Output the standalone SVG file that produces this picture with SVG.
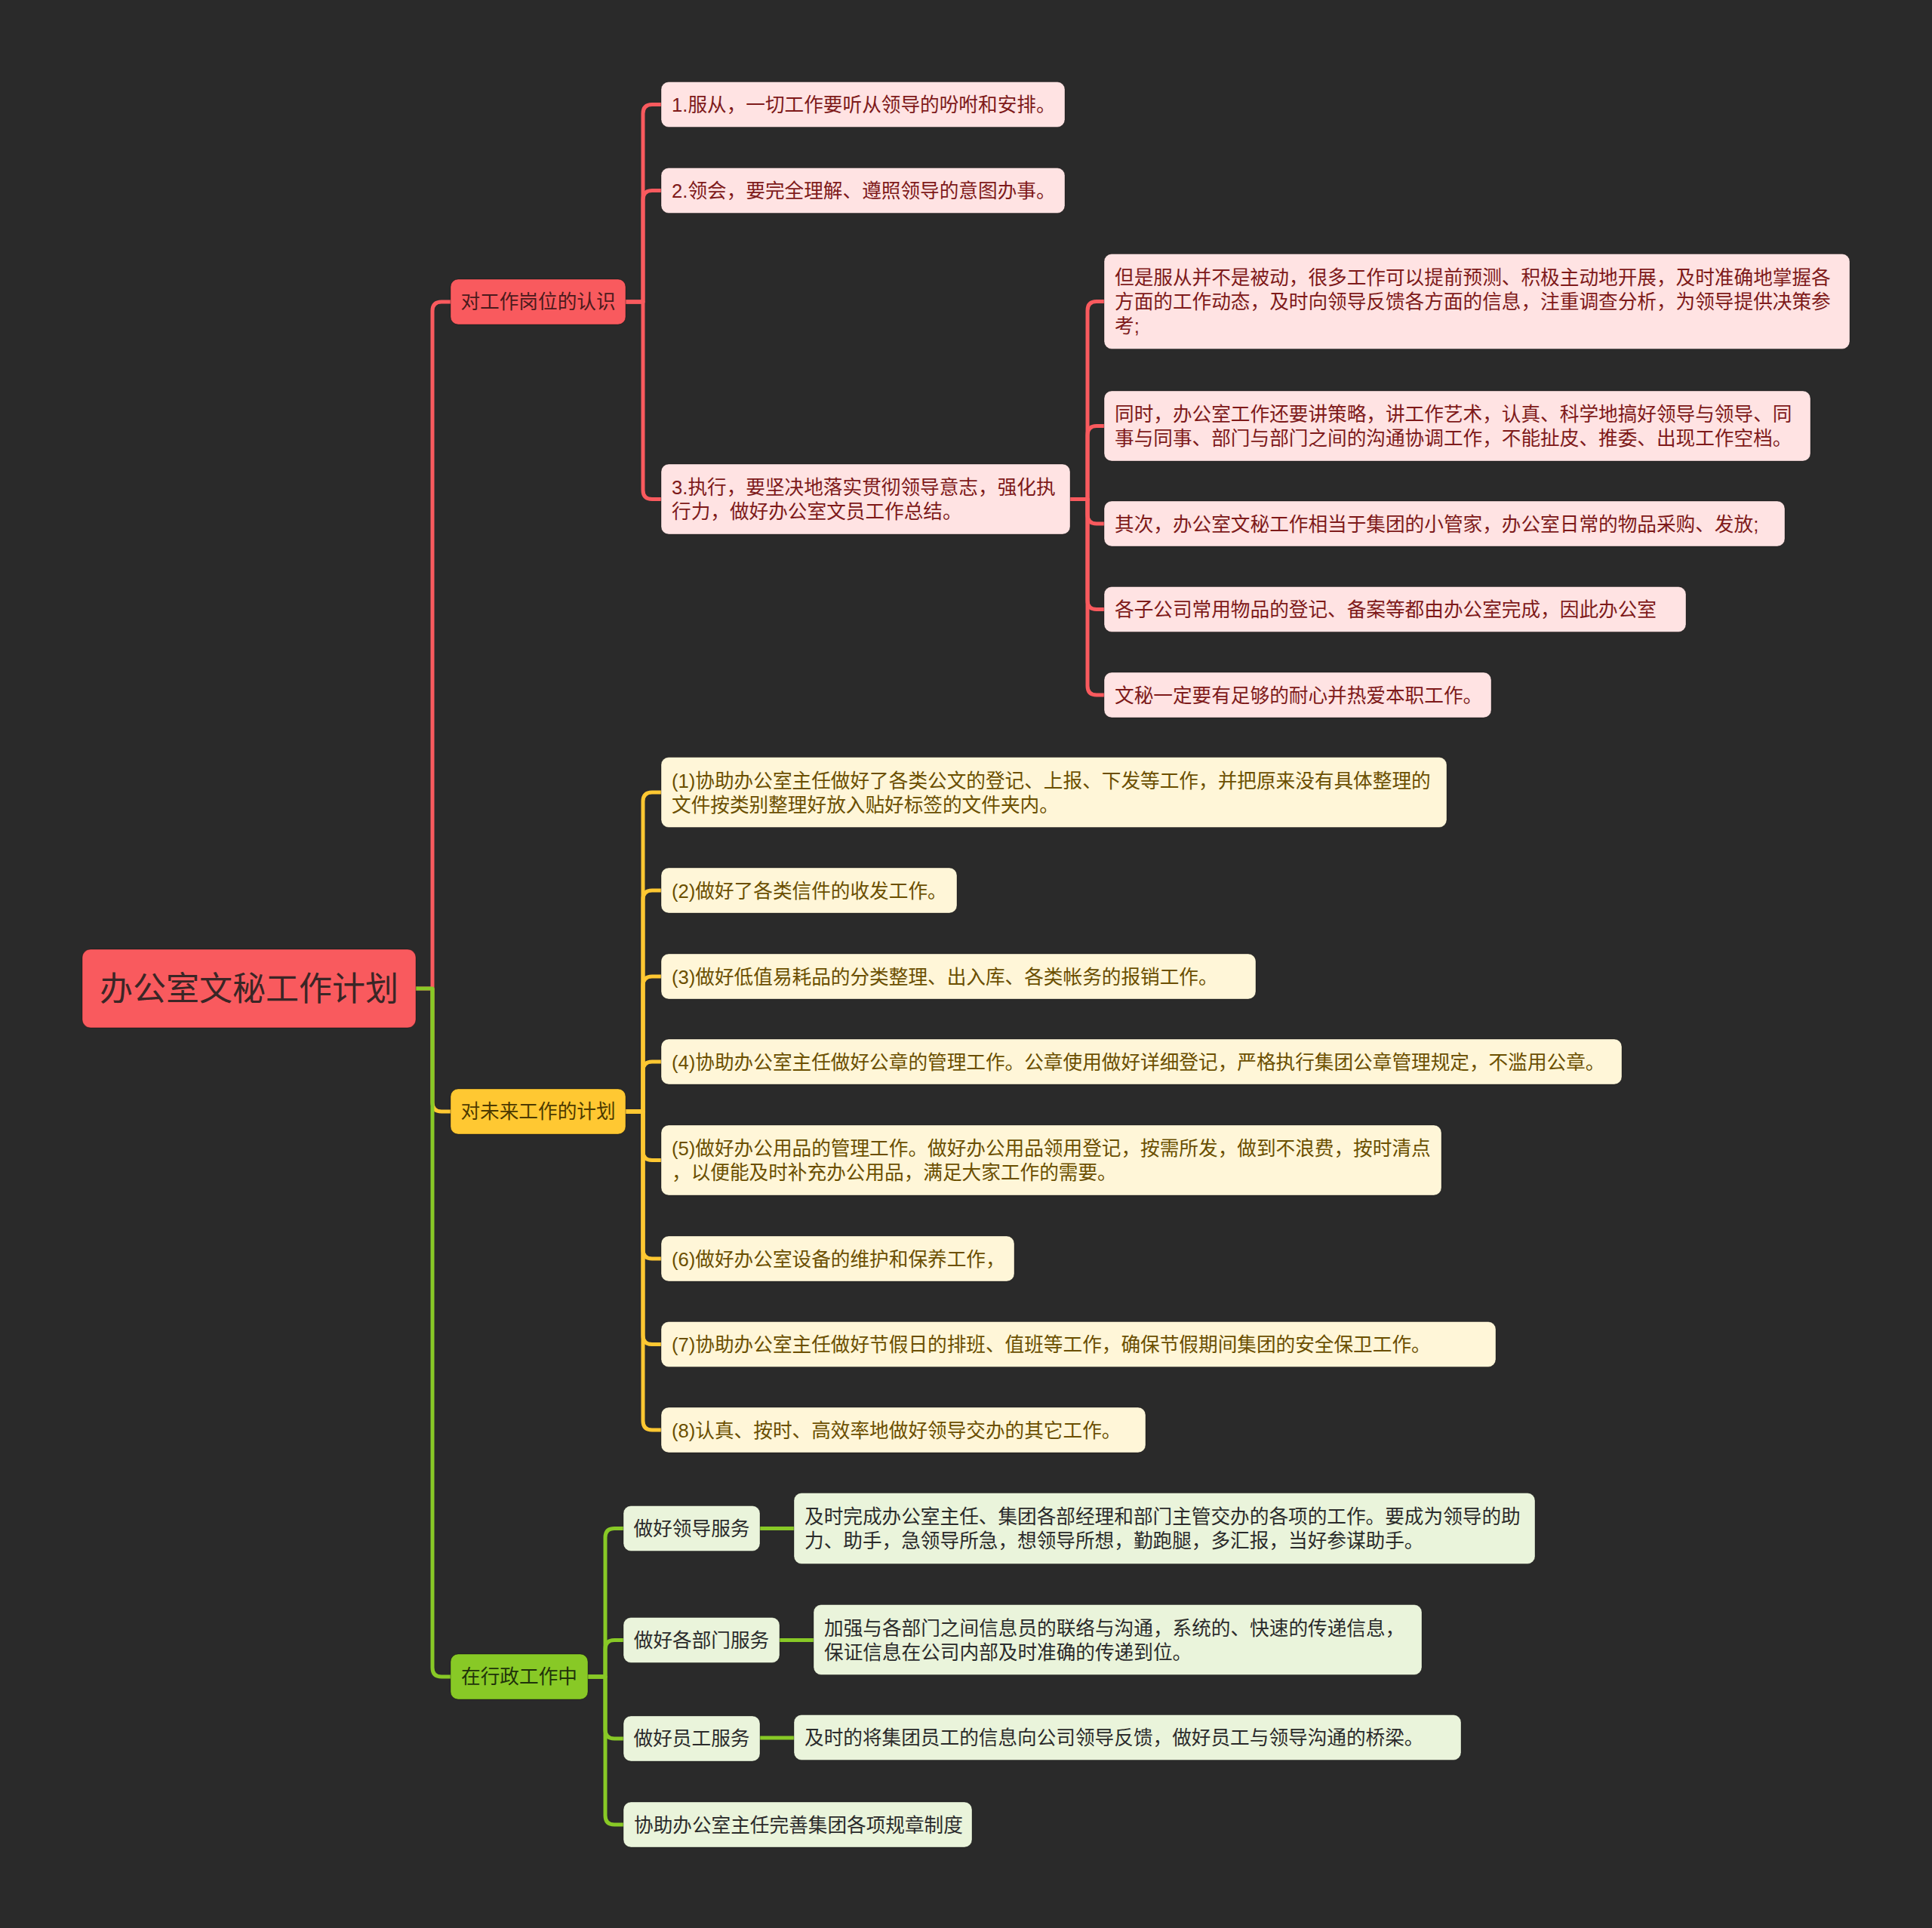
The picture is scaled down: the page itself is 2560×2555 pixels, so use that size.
<svg xmlns="http://www.w3.org/2000/svg" width="2560" height="2555" viewBox="0 0 2560 2555">
<style>
text{font-family:"Liberation Sans","Noto Sans CJK SC",sans-serif;font-size:25.65px;dominant-baseline:central}
.box{stroke:rgba(0,0,0,0.35);stroke-width:1}
.root rect{fill:#F95A5E}
.root text{font-size:44px;fill:#3a2626}
.r1 rect{fill:#F95A5E}
.r1 text{fill:#4a1a1c}
.r2 rect{fill:#FFE3E3}
.r2 text{fill:#7e1a1a}
.y1 rect{fill:#FFC832}
.y1 text{fill:#4d3a00}
.y2 rect{fill:#FFF6D8}
.y2 text{fill:#6b4f00}
.g1 rect{fill:#88C926}
.g1 text{fill:#1f330a}
.g2 rect{fill:#EAF4DB}
.g2 text{fill:#2b2b2b}
.c{fill:none;stroke-width:5;stroke-linejoin:round}
.cr{stroke:#F95A5E}
.cy{stroke:#FFC832}
.cg{stroke:#88C926}
</style>
<rect x="0" y="0" width="2560" height="2555" fill="#2a2a2a"/>

<g id="connectors">
  <path class="c cy" d="M573,1310 V1461 Q573,1473 585,1473 H597"/>
  <path class="c cr" d="M551,1310 H573 V412 Q573,400 585,400 H597"/>
  <path class="c cg" d="M551,1310 H573 V2210 Q573,2222 585,2222 H597"/>

  <path class="c cr" d="M829,400 H852 V150.5 Q852,138.5 864,138.5 H876"/>
  <path class="c cr" d="M829,400 H852 V264.5 Q852,252.5 864,252.5 H876"/>
  <path class="c cr" d="M829,400 H852 V649.5 Q852,661.5 864,661.5 H876"/>

  <path class="c cr" d="M1418,661.5 H1441 V411.5 Q1441,399.5 1453,399.5 H1463"/>
  <path class="c cr" d="M1418,661.5 H1441 V576.5 Q1441,564.5 1453,564.5 H1463"/>
  <path class="c cr" d="M1418,661.5 H1441 V682 Q1441,694 1453,694 H1463"/>
  <path class="c cr" d="M1418,661.5 H1441 V795.5 Q1441,807.5 1453,807.5 H1463"/>
  <path class="c cr" d="M1418,661.5 H1441 V909 Q1441,921 1453,921 H1463"/>

  <path class="c cy" d="M829,1473 H852 V1062 Q852,1050 864,1050 H876"/>
  <path class="c cy" d="M829,1473 H852 V1192 Q852,1180 864,1180 H876"/>
  <path class="c cy" d="M829,1473 H852 V1306 Q852,1294 864,1294 H876"/>
  <path class="c cy" d="M829,1473 H852 V1419 Q852,1407 864,1407 H876"/>
  <path class="c cy" d="M829,1473 H852 V1525.5 Q852,1537.5 864,1537.5 H876"/>
  <path class="c cy" d="M829,1473 H852 V1656 Q852,1668 864,1668 H876"/>
  <path class="c cy" d="M829,1473 H852 V1769.5 Q852,1781.5 864,1781.5 H876"/>
  <path class="c cy" d="M829,1473 H852 V1883 Q852,1895 864,1895 H876"/>

  <path class="c cg" d="M779,2222 H802 V2037.5 Q802,2025.5 814,2025.5 H826"/>
  <path class="c cg" d="M779,2222 H802 V2185.5 Q802,2173.5 814,2173.5 H826"/>
  <path class="c cg" d="M779,2222 H802 V2292 Q802,2304 814,2304 H826"/>
  <path class="c cg" d="M779,2222 H802 V2406 Q802,2418 814,2418 H826"/>

  <path class="c cg" d="M1007,2025.5 H1052"/>
  <path class="c cg" d="M1033,2173.5 H1078"/>
  <path class="c cg" d="M1007,2303 H1052"/>
</g>

<g id="root" class="root">
  <rect class="box" x="109" y="1258" width="442" height="104" rx="11"/>
  <text x="330" y="1310" text-anchor="middle">办公室文秘工作计划</text>
</g>

<g id="n-renshi" class="r1">
  <rect class="box" x="597" y="370" width="232" height="60" rx="10"/>
  <text x="713" y="400" text-anchor="middle">对工作岗位的认识</text>
</g>
<g id="n-fucong" class="r2">
  <rect class="box" x="876" y="108.5" width="535" height="60" rx="10"/>
  <text x="890" y="139">1.服从，一切工作要听从领导的吩咐和安排。</text>
</g>
<g id="n-linghui" class="r2">
  <rect class="box" x="876" y="222.5" width="535" height="60" rx="10"/>
  <text x="890" y="253">2.领会，要完全理解、遵照领导的意图办事。</text>
</g>
<g id="n-zhixing" class="r2">
  <rect class="box" x="876" y="615" width="542" height="93" rx="10"/>
  <text x="890" y="646">3.执行，要坚决地落实贯彻领导意志，强化执</text>
  <text x="890" y="678">行力，做好办公室文员工作总结。</text>
</g>
<g id="n-danshi" class="r2">
  <rect class="box" x="1463" y="336.5" width="988" height="126" rx="10"/>
  <text x="1477" y="368">但是服从并不是被动，很多工作可以提前预测、积极主动地开展，及时准确地掌握各</text>
  <text x="1477" y="400">方面的工作动态，及时向领导反馈各方面的信息，注重调查分析，为领导提供决策参</text>
  <text x="1477" y="432">考;</text>
</g>
<g id="n-tongshi" class="r2">
  <rect class="box" x="1463" y="518" width="936" height="93" rx="10"/>
  <text x="1477" y="549">同时，办公室工作还要讲策略，讲工作艺术，认真、科学地搞好领导与领导、同</text>
  <text x="1477" y="581">事与同事、部门与部门之间的沟通协调工作，不能扯皮、推委、出现工作空档。</text>
</g>
<g id="n-qici" class="r2">
  <rect class="box" x="1463" y="664" width="902" height="60" rx="10"/>
  <text x="1477" y="694.5">其次，办公室文秘工作相当于集团的小管家，办公室日常的物品采购、发放;</text>
</g>
<g id="n-gezi" class="r2">
  <rect class="box" x="1463" y="777.5" width="771" height="60" rx="10"/>
  <text x="1477" y="808">各子公司常用物品的登记、备案等都由办公室完成，因此办公室</text>
</g>
<g id="n-wenmi" class="r2">
  <rect class="box" x="1463" y="891" width="513" height="60" rx="10"/>
  <text x="1477" y="921.5">文秘一定要有足够的耐心并热爱本职工作。</text>
</g>

<g id="n-jihua" class="y1">
  <rect class="box" x="597" y="1443" width="232" height="60" rx="10"/>
  <text x="713" y="1473" text-anchor="middle">对未来工作的计划</text>
</g>
<g id="n-y1" class="y2">
  <rect class="box" x="876" y="1003.5" width="1041" height="93" rx="10"/>
  <text x="890" y="1034.5">(1)协助办公室主任做好了各类公文的登记、上报、下发等工作，并把原来没有具体整理的</text>
  <text x="890" y="1066.5">文件按类别整理好放入贴好标签的文件夹内。</text>
</g>
<g id="n-y2" class="y2">
  <rect class="box" x="876" y="1150" width="392" height="60" rx="10"/>
  <text x="890" y="1180.5">(2)做好了各类信件的收发工作。</text>
</g>
<g id="n-y3" class="y2">
  <rect class="box" x="876" y="1264" width="788" height="60" rx="10"/>
  <text x="890" y="1294.5">(3)做好低值易耗品的分类整理、出入库、各类帐务的报销工作。</text>
</g>
<g id="n-y4" class="y2">
  <rect class="box" x="876" y="1377" width="1273" height="60" rx="10"/>
  <text x="890" y="1407.5">(4)协助办公室主任做好公章的管理工作。公章使用做好详细登记，严格执行集团公章管理规定，不滥用公章。</text>
</g>
<g id="n-y5" class="y2">
  <rect class="box" x="876" y="1491" width="1034" height="93" rx="10"/>
  <text x="890" y="1522">(5)做好办公用品的管理工作。做好办公用品领用登记，按需所发，做到不浪费，按时清点</text>
  <text x="890" y="1554">，以便能及时补充办公用品，满足大家工作的需要。</text>
</g>
<g id="n-y6" class="y2">
  <rect class="box" x="876" y="1638" width="468" height="60" rx="10"/>
  <text x="890" y="1668.5">(6)做好办公室设备的维护和保养工作，</text>
</g>
<g id="n-y7" class="y2">
  <rect class="box" x="876" y="1751.5" width="1106" height="60" rx="10"/>
  <text x="890" y="1782">(7)协助办公室主任做好节假日的排班、值班等工作，确保节假期间集团的安全保卫工作。</text>
</g>
<g id="n-y8" class="y2">
  <rect class="box" x="876" y="1865" width="642" height="60" rx="10"/>
  <text x="890" y="1895.5">(8)认真、按时、高效率地做好领导交办的其它工作。</text>
</g>

<g id="n-xingzheng" class="g1">
  <rect class="box" x="597" y="2192" width="182" height="60" rx="10"/>
  <text x="688" y="2222" text-anchor="middle">在行政工作中</text>
</g>
<g id="n-lingdao" class="g2">
  <rect class="box" x="826" y="1995.5" width="181" height="60" rx="10"/>
  <text x="916.5" y="2025.5" text-anchor="middle">做好领导服务</text>
</g>
<g id="n-lingdao-d" class="g2">
  <rect class="box" x="1052" y="1978.5" width="982" height="94" rx="10"/>
  <text x="1066" y="2010">及时完成办公室主任、集团各部经理和部门主管交办的各项的工作。要成为领导的助</text>
  <text x="1066" y="2042">力、助手，急领导所急，想领导所想，勤跑腿，多汇报，当好参谋助手。</text>
</g>
<g id="n-bumen" class="g2">
  <rect class="box" x="826" y="2143.5" width="207" height="60" rx="10"/>
  <text x="929.5" y="2173.5" text-anchor="middle">做好各部门服务</text>
</g>
<g id="n-bumen-d" class="g2">
  <rect class="box" x="1078" y="2126.5" width="806" height="93" rx="10"/>
  <text x="1092" y="2157.5">加强与各部门之间信息员的联络与沟通，系统的、快速的传递信息，</text>
  <text x="1092" y="2189.5">保证信息在公司内部及时准确的传递到位。</text>
</g>
<g id="n-yuangong" class="g2">
  <rect class="box" x="826" y="2274" width="181" height="60" rx="10"/>
  <text x="916.5" y="2304" text-anchor="middle">做好员工服务</text>
</g>
<g id="n-yuangong-d" class="g2">
  <rect class="box" x="1052" y="2272.5" width="884" height="60" rx="10"/>
  <text x="1066" y="2303">及时的将集团员工的信息向公司领导反馈，做好员工与领导沟通的桥梁。</text>
</g>
<g id="n-guizhang" class="g2">
  <rect class="box" x="826" y="2388" width="462" height="60" rx="10"/>
  <text x="840" y="2418.5">协助办公室主任完善集团各项规章制度</text>
</g>
</svg>
